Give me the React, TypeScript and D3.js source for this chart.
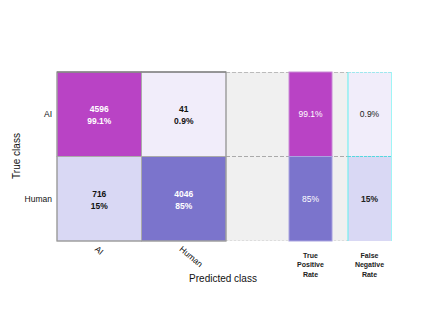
import React from "react";
import * as d3 from "d3";

const classes = ["AI", "Human"];
const counts = [
  [4596, 41],
  [716, 4046],
];
const percentLabels = [
  ["99.1%", "0.9%"],
  ["15%", "85%"],
];
const tprLabels = ["99.1%", "85%"];
const fnrLabels = ["0.9%", "15%"];
const rateColumns = ["True Positive Rate", "False Negative Rate"];

const cellColors = [
  ["#B943C5", "#F1EDFA"],
  ["#D9D8F4", "#7B74CC"],
];
const darkText = [
  [true, false],
  [false, true],
];

export default function App() {
  const W = 432;
  const H = 324;
  const x = d3.scaleBand<string>().domain(classes).range([57, 226]);
  const y = d3.scaleBand<string>().domain(classes).range([72, 241]);
  const rx = d3.scaleBand<string>().domain(rateColumns).range([289, 391]).paddingInner(0.271);
  const font = "'Liberation Sans', Arial, sans-serif";
  const tprCol = rx(rateColumns[0])!;
  const fnrCol = rx(rateColumns[1])!;
  const bw = rx.bandwidth();

  return (
    <svg width={W} height={H} style={{ position: "absolute", left: 0, top: 0 }} fontFamily={font}>
      <rect x={0} y={0} width={W} height={H} fill="#fff" />
      {/* gray panel */}
      <rect x={226} y={72} width={166} height={169} fill="#F0F0F0" />
      <line x1={226} x2={392} y1={72.5} y2={72.5} stroke="#bbb" strokeDasharray="4,2" strokeWidth={1} />
      <line x1={226} x2={392} y1={156.5} y2={156.5} stroke="#aaa" strokeDasharray="4,2" strokeWidth={1} />
      <line x1={226} x2={392} y1={240.5} y2={240.5} stroke="#ddd" strokeDasharray="2,2" strokeWidth={1} />

      {/* matrix cells */}
      {classes.map((tc, i) =>
        classes.map((pc, j) => (
          <g key={`${i}-${j}`}>
            <rect
              x={x(pc)!}
              y={y(tc)!}
              width={x.bandwidth()}
              height={y.bandwidth()}
              fill={cellColors[i][j]}
              stroke="#aaa"
              strokeWidth={1}
            />
            <text
              x={x(pc)! + x.bandwidth() / 2}
              y={y(tc)! + y.bandwidth() / 2 - 2}
              textAnchor="middle"
              fontSize={8.5}
              fontWeight="bold"
              fill={darkText[i][j] ? "#fff" : "#111"}
            >
              {counts[i][j]}
            </text>
            <text
              x={x(pc)! + x.bandwidth() / 2}
              y={y(tc)! + y.bandwidth() / 2 + 10}
              textAnchor="middle"
              fontSize={8.5}
              fontWeight="bold"
              fill={darkText[i][j] ? "#fff" : "#111"}
            >
              {percentLabels[i][j]}
            </text>
          </g>
        ))
      )}
      <rect x={57} y={72} width={169} height={169} fill="none" stroke="#999" strokeWidth={1} />
      <line x1={57} x2={226} y1={72} y2={72} stroke="#777" strokeWidth={1} />

      {/* TPR column */}
      {classes.map((tc, i) => (
        <g key={`tpr-${i}`}>
          <rect
            x={tprCol}
            y={y(tc)!}
            width={bw}
            height={y.bandwidth()}
            fill={cellColors[i][i]}
            stroke={i === 0 ? "#C98BD6" : "#A9A3E0"}
            strokeWidth={1}
          />
          <text
            x={tprCol + bw / 2}
            y={y(tc)! + y.bandwidth() / 2 + 3}
            textAnchor="middle"
            fontSize={8.5}
            fill="#fff"
          >
            {tprLabels[i]}
          </text>
        </g>
      ))}

      {/* FNR column */}
      {classes.map((tc, i) => (
        <g key={`fnr-${i}`}>
          <rect
            x={fnrCol}
            y={y(tc)!}
            width={bw}
            height={y.bandwidth()}
            fill={cellColors[i][1 - i]}
          />
          <text
            x={fnrCol + bw / 2}
            y={y(tc)! + y.bandwidth() / 2 + 3}
            textAnchor="middle"
            fontSize={8.5}
            fontWeight={i === 1 ? "bold" : "normal"}
            fill="#222"
          >
            {fnrLabels[i]}
          </text>
        </g>
      ))}
      <line x1={fnrCol} x2={fnrCol} y1={72} y2={241} stroke="#5FF0F0" strokeWidth={1} />
      <line x1={fnrCol + bw + 0.5} x2={fnrCol + bw + 0.5} y1={72} y2={241} stroke="#9FF5F5" strokeWidth={1} />
      <line x1={fnrCol} x2={fnrCol + bw} y1={156.5} y2={156.5} stroke="#55D8E0" strokeDasharray="3,1" strokeWidth={1} />
      <line x1={fnrCol} x2={fnrCol + bw} y1={72.5} y2={72.5} stroke="#9FE8EE" strokeDasharray="3,1" strokeWidth={1} />

      {/* y tick labels */}
      {classes.map((c) => (
        <text key={`yl-${c}`} x={52} y={y(c)! + y.bandwidth() / 2 + 3} textAnchor="end" fontSize={8.5} fill="#111">
          {c}
        </text>
      ))}
      <text
        transform={`translate(20,156) rotate(-90)`}
        textAnchor="middle"
        fontSize={10}
        fill="#111"
      >
        True class
      </text>

      {/* x tick labels */}
      {classes.map((c) => (
        <text
          key={`xl-${c}`}
          transform={`translate(${x(c)! + x.bandwidth() / 2 - 5},${250}) rotate(40)`}
          textAnchor="start"
          fontSize={8.5}
          fill="#111"
        >
          {c}
        </text>
      ))}
      <text x={223} y={282} textAnchor="middle" fontSize={10} fill="#111">
        Predicted class
      </text>

      {/* rate column labels */}
      {rateColumns.map((rc) => {
        const words = rc.split(" ");
        return (
          <text key={rc} textAnchor="middle" fontSize={7} fontWeight="bold" fill="#222">
            {words.map((w, k) => (
              <tspan key={k} x={rx(rc)! + bw / 2} y={257.5 + k * 9.5}>
                {w}
              </tspan>
            ))}
          </text>
        );
      })}
    </svg>
  );
}
